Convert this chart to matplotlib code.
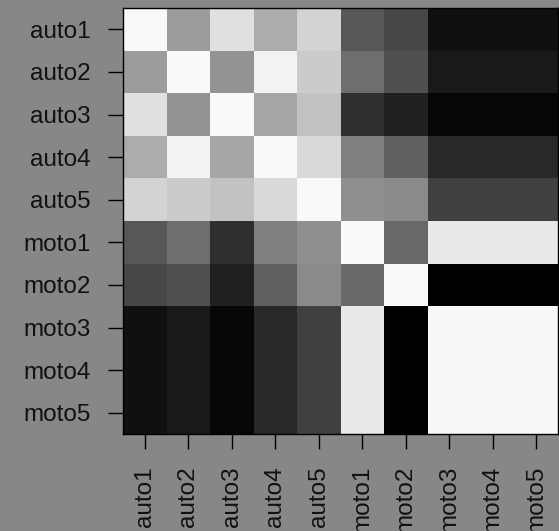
import numpy as np
import matplotlib.pyplot as plt

plt.rcParams['font.family'] = ['Liberation Sans', 'DejaVu Sans']

labels = ["auto1", "auto2", "auto3", "auto4", "auto5",
          "moto1", "moto2", "moto3", "moto4", "moto5"]

# grey level of each cell (0 = black, 1 = white)
levels = np.array([
    [0.976, 0.612, 0.878, 0.675, 0.827, 0.341, 0.278, 0.063, 0.063, 0.063],
    [0.612, 0.976, 0.576, 0.949, 0.796, 0.431, 0.314, 0.098, 0.098, 0.098],
    [0.878, 0.576, 0.976, 0.651, 0.761, 0.184, 0.125, 0.027, 0.027, 0.027],
    [0.675, 0.949, 0.651, 0.976, 0.855, 0.502, 0.376, 0.157, 0.157, 0.157],
    [0.827, 0.796, 0.761, 0.855, 0.976, 0.561, 0.541, 0.251, 0.251, 0.251],
    [0.341, 0.431, 0.184, 0.502, 0.561, 0.976, 0.408, 0.910, 0.910, 0.910],
    [0.278, 0.314, 0.125, 0.376, 0.541, 0.408, 0.976, 0.000, 0.000, 0.000],
    [0.063, 0.098, 0.027, 0.157, 0.251, 0.910, 0.000, 0.969, 0.969, 0.969],
    [0.063, 0.098, 0.027, 0.157, 0.251, 0.910, 0.000, 0.969, 0.969, 0.969],
    [0.063, 0.098, 0.027, 0.157, 0.251, 0.910, 0.000, 0.969, 0.969, 0.969],
])

bg = "#878787"
fig = plt.figure(figsize=(5.59, 5.31), dpi=100, facecolor=bg)
ax = fig.add_axes([123 / 559, 1 - 434 / 531, 435 / 559, 426 / 531])

n = len(labels)
ax.pcolormesh(np.arange(n + 1), np.arange(n + 1), levels,
              cmap="gray", vmin=0, vmax=1)
ax.set_xlim(0, n)
ax.set_ylim(n, 0)

ax.set_xticks(np.arange(n) + 0.5)
ax.set_yticks(np.arange(n) + 0.5)
ax.set_xticklabels(labels, rotation=90)
ax.set_yticklabels(labels)
ax.tick_params(axis="both", direction="out", length=10.5, width=1.0,
               labelsize=17.5, colors="black", labelcolor="#111111", pad=12.5)

for s in ax.spines.values():
    s.set_linewidth(1.0)
    s.set_color("black")

fig.savefig("out.png", dpi=100, facecolor=bg)
